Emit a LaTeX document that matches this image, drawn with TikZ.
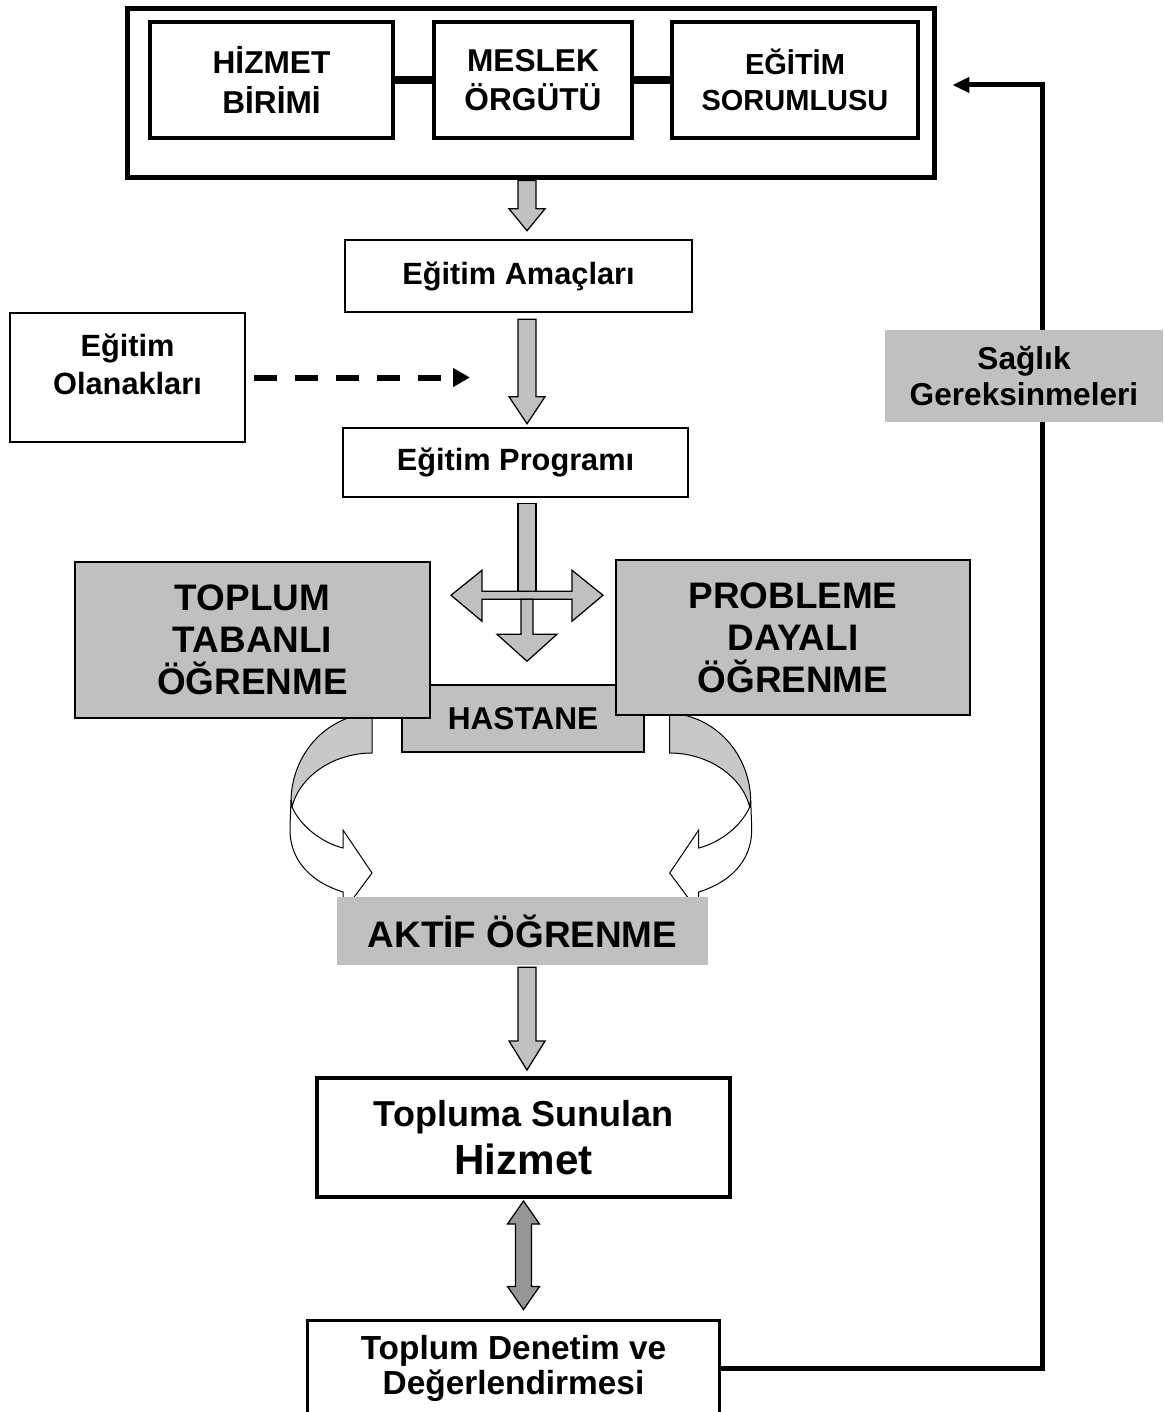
\documentclass[tikz,border=0pt]{standalone}
\usepackage{fontspec}
\setmainfont{Liberation Sans}
\usetikzlibrary{arrows.meta,calc}

\definecolor{boxgray}{RGB}{192,192,192}
\definecolor{bendgray}{RGB}{200,200,200}
\definecolor{arrowdark}{RGB}{150,150,150}

% block arrow pointing down: start, tip, head length
\newcommand{\downblock}[3]{%
  \draw[blockarrow] ($(#1)+(-9,0)$) -- ($(#2)+(-9,-#3)$) -- ($(#2)+(-18,-#3)$) -- (#2)
    -- ($(#2)+(18,-#3)$) -- ($(#2)+(9,-#3)$) -- ($(#1)+(9,0)$) -- cycle;}

% curved band arrow (left one, mirrored for the right)
\newcommand{\bendarrow}{%
  \draw[bendstyle, fill=bendgray] (372,713) .. controls (325,716) and (292,755) .. (291,800)
    -- (292,807) .. controls (300,775) and (335,753) .. (372,753) -- cycle;
  \draw[bendstyle, fill=white] (291,800) -- (292,807) .. controls (300,825) and (320,842) .. (343,848)
    -- (343,830) -- (372,873) -- (343,912) -- (343,892)
    .. controls (305,880) and (289,855) .. (290,827) -- cycle;}

\begin{document}
\begin{tikzpicture}[x=0.02cm, y=-0.02cm,
  every node/.style={inner sep=0pt},
  topbox/.style={draw, line width=0.08cm, minimum height=2.32cm, align=center,
    font=\fontsize{18}{22.5}\selectfont\bfseries},
  plainbox/.style={draw, line width=0.05cm, align=center,
    font=\fontsize{17.5}{21.5}\selectfont\bfseries},
  lbl/.style={align=center, font=\fontsize{17.5}{21.5}\selectfont\bfseries},
  graybox/.style={draw, fill=boxgray, line width=0.03cm, align=center,
    font=\fontsize{21}{24}\selectfont\bfseries},
  flatbox/.style={fill=boxgray, align=center, font=\fontsize{18}{20}\selectfont\bfseries},
  blockarrow/.style={draw, fill=boxgray, line width=0.025cm, line join=miter},
  bendstyle/.style={draw, line width=0.02cm},
  link/.style={line width=0.15cm},
  dasharrow/.style={line width=0.12cm, dash pattern=on 0.46cm off 0.36cm,
    -{Triangle[length=0.34cm,width=0.36cm]}},
  feedback/.style={line width=0.1cm, -{Triangle[length=0.34cm,width=0.3cm]}}]

\useasboundingbox (0,0) rectangle (1163,1412);

% ---- curved arrows (under the boxes) ----
\bendarrow
\begin{scope}[shift={(1041.7,0)}, xscale=-1]
  \bendarrow
\end{scope}

% ---- top group ----
\node[draw, line width=0.1cm, minimum width=16.16cm, minimum height=3.4cm] (topframe) at (531,93) {};
\node[topbox, minimum width=4.86cm] (hizmet) at (271.5,80) {HİZMET\\BİRİMİ};
\node[topbox, minimum width=3.96cm] (meslek) at (533,80) {MESLEK\\ÖRGÜTÜ};
\node[topbox, minimum width=4.92cm, font=\fontsize{16.5}{20.5}\selectfont\bfseries] (egitimsor) at (795,80) {EĞİTİM\\SORUMLUSU};
\draw[link] (hizmet) -- (meslek);
\draw[link] (meslek) -- (egitimsor);

% ---- program boxes ----
\node[plainbox, minimum width=6.94cm, minimum height=1.44cm] (amac) at (518.5,276) {Eğitim Amaçları};
\node[plainbox, minimum width=4.7cm, minimum height=2.58cm] (olanak) at (127.5,377.5) {};
\node[lbl] (olanaktext) at (127.5,364) {Eğitim\\Olanakları};
\node[plainbox, minimum width=6.9cm, minimum height=1.38cm] (program) at (515.5,462.5) {Eğitim Programı};

% ---- learning boxes ----
\node[graybox, minimum width=4.84cm, minimum height=1.34cm, font=\fontsize{18}{20}\selectfont\bfseries] (hastane) at (523,718.5) {HASTANE};
\node[graybox, minimum width=7.1cm, minimum height=3.12cm] (toplum) at (252.5,640) {TOPLUM\\TABANLI\\ÖĞRENME};
\node[graybox, minimum width=7.08cm, minimum height=3.1cm] (probleme) at (793,637.5) {PROBLEME\\DAYALI\\ÖĞRENME};
\node[flatbox, minimum width=7.42cm, minimum height=1.36cm, font=\fontsize{21}{24}\selectfont\bfseries] (aktif) at (522.5,931) {AKTİF ÖĞRENME};

% ---- service boxes ----
\node[draw, line width=0.08cm, minimum width=8.26cm, minimum height=2.38cm, align=center,
  font=\fontsize{20.5}{27}\selectfont\bfseries] (sunulan) at (523.5,1137.5)
  {Topluma Sunulan\\{\fontsize{24}{27}\selectfont Hizmet}};
\node[draw, line width=0.06cm, minimum width=8.26cm, minimum height=1.92cm, align=center,
  font=\fontsize{19}{20}\selectfont\bfseries] (denetim) at (513.5,1368) {Toplum Denetim ve\\Değerlendirmesi};

% ---- block arrows down the middle ----
\coordinate (spine) at (527,0);
\coordinate (a1s) at (topframe.south -| spine);
\coordinate (a1t) at ($(amac.north -| spine)+(0,-8)$);
\coordinate (a2s) at ($(amac.south -| spine)+(0,6)$);
\coordinate (a2t) at ($(program.north -| spine)+(0,-3)$);
\coordinate (a3s) at ($(aktif.south -| spine)+(0,2)$);
\coordinate (a3t) at ($(sunulan.north -| spine)+(0,-6)$);
\downblock{a1s}{a1t}{22}
\downblock{a2s}{a2t}{27}
\downblock{a3s}{a3t}{29}

% three way arrow under the programme
\coordinate (hub) at ($(program.south -| spine)+(0,5)$);
\coordinate (cross) at ($(hub)+(0,92)$);
\draw[blockarrow] ($(hub)+(-9,0)$) rectangle ($(hub)+(9,90)$);
\draw[blockarrow] ($(cross)+(-76,0)$) -- ($(cross)+(-45,-25)$) -- ($(cross)+(-45,-4)$) -- ($(cross)+(45,-4)$)
  -- ($(cross)+(45,-25)$) -- ($(cross)+(76,0)$) -- ($(cross)+(45,26)$) -- ($(cross)+(45,4)$)
  -- ($(cross)+(-45,4)$) -- ($(cross)+(-45,26)$) -- cycle;
\draw[blockarrow] ($(cross)+(-6,4)$) -- ($(cross)+(-6,39)$) -- ($(cross)+(-30,39)$) -- ($(cross)+(0,66)$)
  -- ($(cross)+(30,39)$) -- ($(cross)+(6,39)$) -- ($(cross)+(6,4)$) -- cycle;

% double arrow between service and control
\coordinate (d1) at ($(sunulan.south)+(0,2)$);
\coordinate (d2) at ($(denetim.north -| sunulan.south)+(0,-9)$);
\draw[blockarrow, fill=arrowdark] (d1) -- ($(d1)+(16,23)$) -- ($(d1)+(8,23)$) -- ($(d2)+(8,-23)$)
  -- ($(d2)+(16,-23)$) -- (d2) -- ($(d2)+(-16,-23)$) -- ($(d2)+(-8,-23)$)
  -- ($(d1)+(-8,23)$) -- ($(d1)+(-16,23)$) -- cycle;

% ---- dashed and feedback arrows ----
\coordinate (dashtip) at (470,377.5);
\draw[dasharrow, shorten <=0.16cm] (olanak.east) -- (dashtip);

\draw[feedback] (denetim.east) -| ($(topframe.east)+(105,-8)$) -- ($(topframe.east)+(15,-8)$);
\node[flatbox, minimum width=5.56cm, minimum height=1.84cm] (saglik) at (1024,376) {Sağlık\\Gereksinmeleri};

\end{tikzpicture}
\end{document}
